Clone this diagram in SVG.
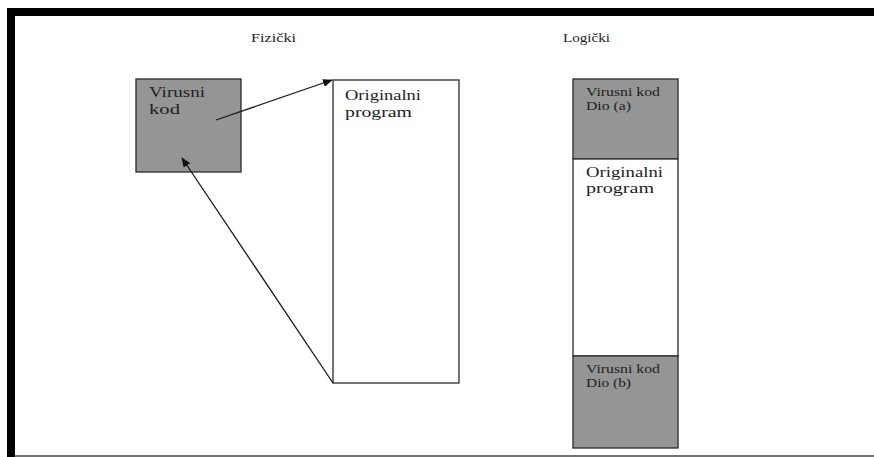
<svg xmlns="http://www.w3.org/2000/svg" width="874" height="457" viewBox="0 0 874 457">
<style>
text{font-family:"Liberation Serif","Times New Roman",serif;fill:#1e1e1e;font-size:13px}
.big{font-size:14px}
.sm{font-size:12px}
.box{stroke:#2a2a2a;stroke-width:1.3}
.grey{fill:#959595}
.white{fill:#fff}
.conn{stroke:#1a1a1a;stroke-width:1.3;fill:none}
</style>
<defs>
<marker id="ah" markerWidth="10" markerHeight="8" refX="9" refY="4" orient="auto" markerUnits="userSpaceOnUse">
<path d="M0,0 L10,4 L0,8 z" fill="#111"/>
</marker>
</defs>
<rect width="874" height="457" fill="#fff"/>
<g id="frame">
<rect x="7" y="8" width="867" height="8" fill="#000"/>
<rect x="7" y="8" width="8" height="449" fill="#000"/>
<line x1="15" y1="456" x2="874" y2="456" stroke="#444" stroke-width="1.5"/>
</g>
<g id="label-fizicki"><text x="251" y="42" textLength="45" lengthAdjust="spacingAndGlyphs">Fizički</text></g>
<g id="label-logicki"><text x="563" y="42" textLength="47" lengthAdjust="spacingAndGlyphs">Logički</text></g>
<g id="virus-phys">
<rect class="box grey" x="136" y="79" width="105" height="93"/>
<text class="big" x="149" y="97" textLength="56" lengthAdjust="spacingAndGlyphs">Virusni</text>
<text class="big" x="149" y="114" textLength="31" lengthAdjust="spacingAndGlyphs">kod</text>
</g>
<g id="orig-phys">
<rect class="box white" x="333" y="80" width="126" height="303"/>
<text class="big" x="345" y="100" textLength="76" lengthAdjust="spacingAndGlyphs">Originalni</text>
<text class="big" x="345" y="117" textLength="67" lengthAdjust="spacingAndGlyphs">program</text>
</g>
<g id="virus-a">
<rect class="box grey" x="573" y="79" width="105" height="80"/>
<text class="sm" x="586" y="96" textLength="74" lengthAdjust="spacingAndGlyphs">Virusni kod</text>
<text class="sm" x="586" y="110" textLength="45" lengthAdjust="spacingAndGlyphs">Dio (a)</text>
</g>
<g id="orig-log">
<rect class="box white" x="573" y="159" width="105" height="197"/>
<text class="big" x="586" y="177" textLength="77" lengthAdjust="spacingAndGlyphs">Originalni</text>
<text class="big" x="586" y="193" textLength="68" lengthAdjust="spacingAndGlyphs">program</text>
</g>
<g id="virus-b">
<rect class="box grey" x="573" y="356" width="105" height="92"/>
<text class="sm" x="586" y="373" textLength="74" lengthAdjust="spacingAndGlyphs">Virusni kod</text>
<text class="sm" x="586" y="387" textLength="45" lengthAdjust="spacingAndGlyphs">Dio (b)</text>
</g>
<g id="connectors">
<line class="conn" x1="216" y1="120" x2="332" y2="80" marker-end="url(#ah)"/>
<line class="conn" x1="333" y1="383" x2="182" y2="158" marker-end="url(#ah)"/>
</g>
</svg>
